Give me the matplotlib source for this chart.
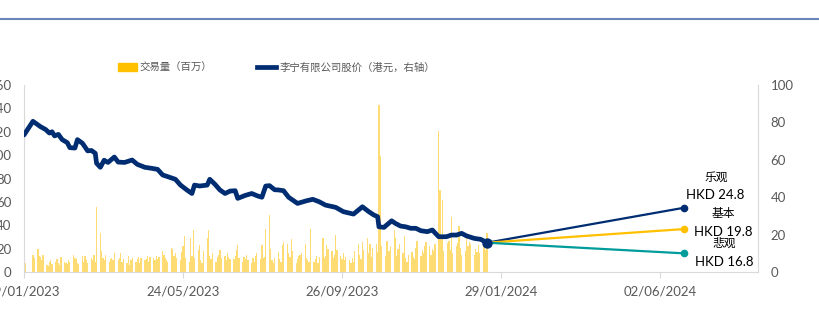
import pandas as pd
import matplotlib.pyplot as plt
from matplotlib.lines import Line2D
from matplotlib.patches import Patch

plt.rcParams["font.family"] = ["Lato", "Noto Sans CJK SC", "DejaVu Sans"]

# daily volume (millions), trading days 19/01/2023 - 18/01/2024, month by month
vol_jan23 = [11, 8, 0, 0, 0, 15, 12, 20, 14]
vol_feb23 = [13, 10, 15, 6, 5, 9, 10, 7, 9, 11, 8, 6, 13, 9, 8, 7, 10, 9, 15, 12]
vol_mar23 = [11, 8, 7, 14, 9, 14, 10, 8, 12, 10, 15, 9, 56, 33, 18, 12, 10, 15, 9, 11, 12, 10, 16]
vol_apr23 = [10, 12, 16, 9, 11, 8, 14, 6, 10, 12, 9, 11, 13, 8, 12, 10, 11, 14, 9, 13]
vol_may23 = [12, 10, 14, 11, 13, 18, 15, 12, 10, 9, 21, 20, 14, 16, 12, 10, 17, 22, 31, 12, 9, 29, 14]
vol_jun23 = [36, 12, 19, 23, 10, 8, 18, 29, 36, 14, 11, 16, 9, 13, 15, 19, 12, 14, 10, 16, 13, 11]
vol_jul23 = [11, 14, 19, 23, 12, 9, 13, 11, 15, 10, 8, 12, 9, 14, 16, 11, 23, 12, 13, 37, 49]
vol_aug23 = [20, 10, 8, 12, 17, 11, 9, 23, 26, 24, 16, 13, 28, 18, 8, 11, 14, 15, 16, 24, 12, 10, 9]
vol_sep23 = [37, 9, 11, 14, 8, 13, 29, 12, 14, 23, 20, 18, 12, 15, 32, 19, 14, 11, 16, 10, 13]
vol_oct23 = [10, 8, 12, 9, 18, 24, 15, 11, 26, 19, 29, 16, 24, 13, 21, 24, 17, 143, 99, 22, 14, 27]
vol_nov23 = [27, 18, 22, 36, 29, 14, 20, 24, 16, 31, 12, 9, 15, 17, 13, 11, 21, 27, 14, 19, 16, 22]
vol_dec23 = [26, 22, 15, 20, 18, 24, 121, 70, 30, 62, 18, 25, 27, 19, 47, 16, 22, 25, 39, 21, 15]
vol_jan24 = [18, 30, 22, 26, 24, 15, 20, 17, 23, 16, 26, 22, 19, 33]

volume = (vol_jan23 + vol_feb23 + vol_mar23 + vol_apr23 + vol_may23 + vol_jun23
          + vol_jul23 + vol_aug23 + vol_sep23 + vol_oct23 + vol_nov23 + vol_dec23 + vol_jan24)
vol_dates = pd.bdate_range("2023-01-19", "2024-01-18")

# share price (HKD, right axis)
price_dates = [
    "2023-01-19", "2023-01-26", "2023-02-01", "2023-02-05", "2023-02-08", "2023-02-10",
    "2023-02-12", "2023-02-15", "2023-02-18", "2023-02-22", "2023-02-24", "2023-02-28",
    "2023-03-02", "2023-03-06", "2023-03-10", "2023-03-13", "2023-03-16", "2023-03-17",
    "2023-03-20", "2023-03-23", "2023-03-26", "2023-03-31", "2023-04-03", "2023-04-08",
    "2023-04-14", "2023-04-18", "2023-04-24", "2023-04-30", "2023-05-04", "2023-05-08",
    "2023-05-12", "2023-05-18", "2023-05-22", "2023-05-27", "2023-05-31", "2023-06-02",
    "2023-06-06", "2023-06-12", "2023-06-14", "2023-06-18", "2023-06-22", "2023-06-26",
    "2023-06-30", "2023-07-04", "2023-07-06", "2023-07-12", "2023-07-17", "2023-07-22",
    "2023-07-25", "2023-07-28", "2023-07-31", "2023-08-04", "2023-08-07", "2023-08-11",
    "2023-08-15", "2023-08-22", "2023-08-29", "2023-09-03", "2023-09-08", "2023-09-13",
    "2023-09-21", "2023-09-27", "2023-10-05", "2023-10-12", "2023-10-17", "2023-10-21",
    "2023-10-24", "2023-10-25", "2023-10-29", "2023-10-31", "2023-11-04", "2023-11-07",
    "2023-11-11", "2023-11-15", "2023-11-19", "2023-11-23", "2023-11-27", "2023-12-02",
    "2023-12-06", "2023-12-09", "2023-12-11", "2023-12-17", "2023-12-21", "2023-12-25",
    "2023-12-29", "2024-01-02", "2024-01-08", "2024-01-13", "2024-01-18",
]
price = [
    73.3, 80.6, 77.7, 76.2, 74.3, 75.0,
    72.8, 73.6, 70.8, 69.2, 66.5, 66.3,
    70.8, 68.8, 64.8, 65.0, 63.5, 58.2,
    56.0, 59.8, 58.6, 61.5, 58.8, 58.6,
    59.9, 57.6, 56.0, 55.4, 54.9, 51.9,
    51.0, 49.6, 46.5, 43.9, 42.0, 46.5,
    46.0, 46.5, 49.6, 47.0, 43.9, 42.0,
    43.3, 43.5, 39.4, 41.0, 42.0, 40.6,
    40.0, 46.0, 46.2, 44.0, 43.9, 43.5,
    40.0, 36.7, 38.1, 38.9, 37.6, 35.8,
    34.6, 32.3, 31.0, 34.9, 32.3, 30.5,
    29.6, 24.2, 23.9, 25.1, 27.4, 26.0,
    24.6, 24.2, 23.4, 23.4, 22.1, 21.6,
    22.5, 20.3, 18.9, 18.9, 19.8, 19.8,
    20.7, 19.3, 18.0, 17.5, 15.7,
]

# target scenarios (drawn from last close to target date)
scen_dates = ["2024-01-18", "2024-06-21"]
scen_names = ["乐观", "基本", "悲观"]
scen_labels = ["HKD 24.8", "HKD 19.8", "HKD 16.8"]
scen_end = [34.4, 23.0, 10.0]
scen_colors = ["#002D72", "#FFC000", "#009B9B"]

xticks = ["2023-01-19", "2023-05-24", "2023-09-26", "2024-01-29", "2024-06-02"]
xlim = ["2023-01-19", "2024-08-18"]

fig = plt.figure(figsize=(8.2, 3.16), dpi=100)
ax1 = fig.add_axes([0.0293, 0.139, 0.8951, 0.592])
ax2 = ax1.twinx()

ax1.bar(vol_dates, volume, width=1.0, color="#FFC000", alpha=0.55, linewidth=0)
ax2.plot(pd.to_datetime(price_dates), price, color="#002D72", linewidth=3.4,
         solid_capstyle="round")

sd = pd.to_datetime(scen_dates)
offsets = [((23, 22), (22, 9)), ((28, 11.5), (28, -2)), ((29, 7), (29, -6.5))]
for name, lab, end, col, off in zip(scen_names, scen_labels, scen_end, scen_colors, offsets):
    ax2.plot(sd, [price[-1], end], color=col, linewidth=1.6, marker="o",
             markersize=4.5, markevery=[1])
    ax2.annotate(name, (sd[1], end), xytext=off[0], textcoords="offset points",
                 ha="center", va="center", fontsize=8.5, color="black")
    ax2.annotate(lab, (sd[1], end), xytext=off[1], textcoords="offset points",
                 ha="center", va="center", fontsize=9.5, color="black")
ax2.plot(sd[:1], price[-1:], "o", color="#002D72", markersize=6.5)

ax1.set_xlim(pd.to_datetime(xlim))
ax1.set_ylim(0, 160)
ax2.set_ylim(0, 100)
ax1.set_yticks(range(0, 161, 20))
ax2.set_yticks(range(0, 101, 20))
ax1.set_xticks(pd.to_datetime(xticks))
ax1.set_xticklabels([pd.Timestamp(d).strftime("%d/%m/%Y") for d in xticks])

for ax in (ax1, ax2):
    for s in ax.spines.values():
        s.set_visible(False)
    ax.tick_params(axis="y", length=0, labelsize=9.5, labelcolor="#595959", pad=9)
ax1.spines["left"].set_visible(True)
ax1.spines["bottom"].set_visible(True)
ax2.spines["right"].set_visible(True)
ax1.spines["left"].set_color("#D9D9D9")
ax1.spines["bottom"].set_color("#D9D9D9")
ax2.spines["right"].set_color("#D9D9D9")
ax1.tick_params(axis="x", length=4, color="#D9D9D9", labelsize=9.5,
                labelcolor="#595959", pad=6)

handles = [Patch(color="#FFC000"), Line2D([], [], color="#002D72", linewidth=3.4)]
labels = ["交易量（百万）", "李宁有限公司股价（港元，右轴）"]
fig.legend(handles, labels, loc="center", bbox_to_anchor=(0.337, 0.785),
           ncol=2, frameon=False, fontsize=7.5, labelcolor="#595959",
           handlelength=1.8, handleheight=0.8, columnspacing=4.3, handletextpad=0.3)

fig.add_artist(Line2D([0, 1], [0.94, 0.94], color="#6A86B8", linewidth=1.5))

fig.savefig("out.png", dpi=100)
